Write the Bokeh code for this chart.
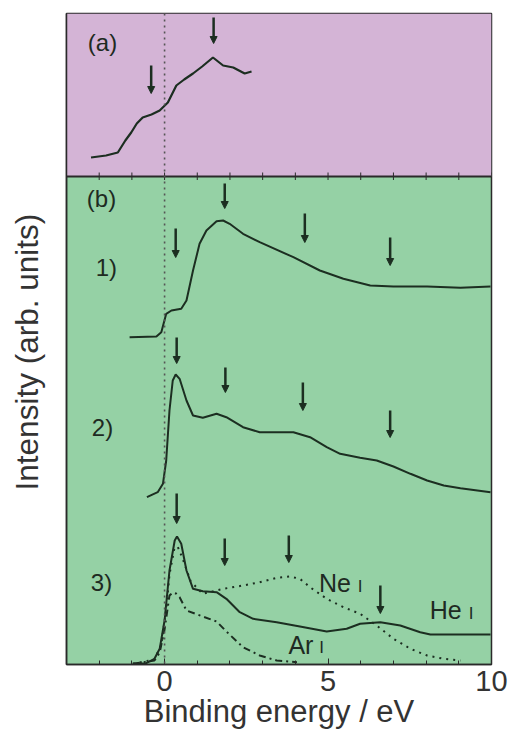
from bokeh.plotting import figure
from bokeh.models import (Range1d, FixedTicker, BoxAnnotation, Span, Label,
                          Arrow, NormalHead, ColumnDataSource)
from bokeh.embed import file_html
from bokeh.resources import INLINE

# ---------------- data (binding energy in eV, intensity in arb. units) ----------------
a_energy = [-2.25, -1.79, -1.43, -1.2, -1.02, -0.85, -0.67, -0.4, -0.15, 0.1, 0.36,
            0.6, 0.87, 1.15, 1.48, 1.79, 2.10, 2.45, 2.66]
a_intensity = [50.7, 50.9, 51.2, 52.4, 53.2, 54.1, 54.7, 55.0, 55.4, 56.2, 57.9,
               58.5, 59.1, 59.8, 60.7, 59.9, 59.7, 59.1, 59.3]

b1_energy = [-1.07, -0.25, -0.10, 0.05, 0.21, 0.51, 0.67, 0.87, 1.07, 1.28, 1.59, 1.79,
             1.99, 2.40, 2.91, 3.94, 4.75, 5.47, 6.29, 7.0, 8.03, 9.05, 9.97]
b1_intensity = [32.73, 32.8, 33.23, 35.07, 35.4, 35.57, 36.4, 39.4, 42.07, 43.4, 44.33,
                44.4, 44.07, 43.07, 42.23, 40.73, 39.4, 38.57, 37.9, 37.8, 37.8, 37.67, 37.8]

b2_energy = [-0.54, -0.21, -0.05, 0.05, 0.15, 0.25, 0.34, 0.46, 0.67, 0.87, 1.17, 1.59,
             1.89, 2.40, 2.91, 3.94, 4.45, 4.96, 5.37, 5.98, 6.49, 7.0, 7.52, 8.03, 8.54,
             9.05, 9.97]
b2_intensity = [16.73, 17.23, 18.07, 20.4, 25.4, 28.4, 29.0, 28.57, 26.4, 24.9, 24.67,
                25.07, 24.73, 23.73, 23.23, 23.23, 22.73, 21.73, 21.07, 20.67, 20.4, 19.8,
                19.07, 18.4, 17.9, 17.63, 17.23]

he_energy = [-0.97, -0.56, -0.31, -0.15, 0.0, 0.15, 0.31, 0.38, 0.51, 0.67, 0.87, 1.17,
             1.59, 1.89, 2.30, 2.71, 3.43, 4.14, 4.96, 5.57, 5.98, 6.60, 7.21, 7.82, 8.13,
             9.05, 9.97]
he_intensity = [0.07, 0.13, 0.57, 1.57, 4.4, 9.4, 12.4, 12.8, 12.07, 9.4, 7.57, 7.33,
                7.23, 6.57, 5.23, 4.57, 4.23, 3.8, 3.3, 3.57, 4.07, 4.23, 3.9, 3.23, 3.0,
                3.0, 3.0]

ne_energy = [-0.97, -0.31, -0.1, 0.05, 0.15, 0.3, 0.4, 0.55, 0.8, 1.17, 1.79, 2.40, 2.91,
             3.43, 3.83, 4.14, 4.45, 4.96, 5.47, 5.98, 6.49, 7.0, 7.52, 8.03, 8.54, 9.05]
ne_intensity = [0.07, 0.5, 2.0, 5.5, 9.0, 11.6, 11.8, 10.6, 8.3, 7.07, 7.57, 7.9, 8.23,
                8.67, 8.8, 8.57, 7.73, 6.57, 5.73, 5.07, 3.9, 2.57, 1.57, 0.9, 0.57, 0.4]

ar_energy = [-0.97, -0.31, -0.15, 0.0, 0.15, 0.25, 0.35, 0.46, 0.67, 1.17, 1.59, 1.89,
             2.4, 2.91, 3.43, 4.05]
ar_intensity = [0.07, 0.4, 1.2, 3.5, 6.9, 7.2, 7.1, 6.73, 5.4, 4.8, 4.3, 3.3, 1.73, 0.9,
                0.4, 0.23]

arrow_energy = [-0.41, 1.5,
                0.34, 1.84, 4.29, 6.9,
                0.37, 1.86, 4.23, 6.9,
                0.37, 1.84, 3.80, 6.60]
arrow_top = [59.9, 64.7,
             43.6, 48.1, 45.1, 42.7,
             32.7, 29.7, 28.2, 25.4,
             17.1, 12.6, 12.9, 7.9]
arrow_bottom = [57.1, 62.1,
                40.7, 45.6, 42.2, 39.9,
                30.1, 27.2, 25.4, 22.7,
                14.1, 9.9, 10.2, 5.1]

x_major_ticks = [0, 5, 10]
x_minor_ticks = list(range(-3, 11))

# ---------------- styling ----------------
FONT = "Liberation Sans"
INK = "#1c2e21"
PURPLE = "#d4b4d6"
GREEN = "#95d1a5"
PANEL_SPLIT = 48.8

p = figure(frame_width=425, frame_height=651, min_border_left=66, min_border_top=13,
           min_border_right=17, min_border_bottom=40,
           x_range=Range1d(-3, 10), y_range=Range1d(0, 65.1),
           output_backend="svg", toolbar_location=None)

p.background_fill_color = GREEN
p.border_fill_color = "white"
p.outline_line_color = "#2a2a2a"
p.outline_line_width = 1.5
p.grid.visible = False

p.add_layout(BoxAnnotation(bottom=PANEL_SPLIT, fill_color=PURPLE, fill_alpha=1.0,
                           line_alpha=0, level="underlay"))
p.add_layout(Span(location=PANEL_SPLIT, dimension="width", line_color="#2a2a2a",
                  line_width=2))
p.add_layout(Span(location=0, dimension="height", line_color="#555555",
                  line_width=1.6, line_dash="2 4"))

# ticks at the boundary between the panels
p.segment(x0=x_minor_ticks, y0=[PANEL_SPLIT - 0.35] * len(x_minor_ticks),
          x1=x_minor_ticks, y1=[PANEL_SPLIT + 0.4] * len(x_minor_ticks),
          line_color="#2a2a2a", line_width=1)

# x axis
xa = p.xaxis[0]
xa.ticker = FixedTicker(ticks=x_major_ticks, minor_ticks=x_minor_ticks)
xa.major_tick_in = 6
xa.major_tick_out = 0
xa.minor_tick_in = 4
xa.minor_tick_out = 0
xa.axis_line_color = "#2a2a2a"
xa.axis_line_width = 1.5
xa.major_tick_line_color = "#2a2a2a"
xa.minor_tick_line_color = "#2a2a2a"
xa.major_label_text_font = FONT
xa.major_label_text_font_size = "29px"
xa.major_label_text_color = "#333333"
xa.major_label_standoff = 6
xa.axis_label = "Binding energy / eV"
xa.axis_label_text_font = FONT
xa.axis_label_text_font_size = "31px"
xa.axis_label_text_font_style = "normal"
xa.axis_label_text_color = "#333333"
xa.axis_label_standoff = 0

# y axis: no ticks or tick labels; trailing no-break spaces nudge the label a bit lower
ya = p.yaxis[0]
ya.ticker = FixedTicker(ticks=[])
ya.major_tick_line_color = None
ya.minor_tick_line_color = None
ya.major_label_text_font_size = "0px"
ya.axis_line_color = "#2a2a2a"
ya.axis_line_width = 1.5
ya.axis_label = "Intensity (arb. units)\u00a0\u00a0\u00a0"
ya.axis_label_text_font = FONT
ya.axis_label_text_font_size = "31.5px"
ya.axis_label_text_font_style = "normal"
ya.axis_label_text_color = "#333333"
ya.axis_label_standoff = 22

# curves
p.line(a_energy, a_intensity, line_color=INK, line_width=2.2)
p.line(b1_energy, b1_intensity, line_color=INK, line_width=2)
p.line(b2_energy, b2_intensity, line_color=INK, line_width=2)
p.line(ne_energy, ne_intensity, line_color=INK, line_width=2, line_dash="2 5")
p.line(ar_energy, ar_intensity, line_color=INK, line_width=2, line_dash="7 4 2 4")
p.line(he_energy, he_intensity, line_color=INK, line_width=2)

# arrows
arrow_src = ColumnDataSource(dict(x=arrow_energy, y0=arrow_top, y1=arrow_bottom))
p.add_layout(Arrow(x_start="x", y_start="y0", x_end="x", y_end="y1", source=arrow_src,
                   line_color=INK, line_width=2.5,
                   end=NormalHead(size=7, fill_color=INK, line_color=INK, line_width=1)))

# labels
def lab(x, y, t, size, align="center"):
    p.add_layout(Label(x=x, y=y, text=t, text_font=FONT, text_font_size=size,
                       text_color="#1e2a22", text_align=align, text_baseline="middle"))

lab(-1.9, 62.2, "(a)", "24px")
lab(-1.93, 46.6, "(b)", "24px")
lab(-1.78, 39.7, "1)", "24px")
lab(-1.9, 23.7, "2)", "24px")
lab(-1.93, 8.2, "3)", "24px")
lab(5.21, 8.2, "Ne", "25px")
lab(5.98, 7.85, "I", "17px")
lab(8.6, 5.5, "He", "25px")
lab(9.38, 5.15, "I", "17px")
lab(4.17, 2.0, "Ar", "25px")
lab(4.8, 1.7, "I", "17px")

open("out.html", "w").write(file_html(p, INLINE))
